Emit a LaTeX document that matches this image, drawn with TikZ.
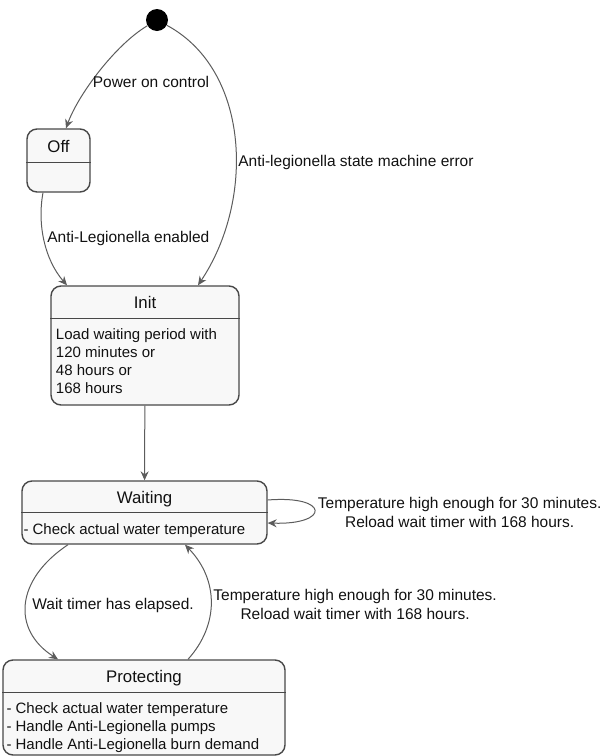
\documentclass[tikz,border=0pt]{standalone}
\usepackage{fontspec}
\setmainfont{Liberation Sans}
\usetikzlibrary{arrows.meta}
\definecolor{boxfill}{HTML}{F8F8F8}
\definecolor{boxline}{HTML}{484848}
\definecolor{edgeline}{HTML}{5C5C5C}
\definecolor{inktext}{HTML}{111111}

\begin{document}
\begin{tikzpicture}[x=1pt,y=-1pt,
    state/.style={draw=boxline,fill=boxfill,line width=1.4pt,rounded corners=10pt,inner sep=0pt},
    title/.style={inner sep=0pt,text=inktext,font=\fontsize{16.8}{20}\selectfont,text height=15pt,text depth=3pt},
    body/.style={inner sep=0pt,align=left,text=inktext,font=\fontsize{15}{18}\selectfont},
    lbl/.style={inner sep=0pt,text=inktext,font=\fontsize{15.5}{19}\selectfont,text height=14.1pt,text depth=3pt},
    lbltwo/.style={inner sep=0pt,align=center,text=inktext,font=\fontsize{15.5}{19}\selectfont},
    sep/.style={draw=boxline,line width=1.4pt},
    trans/.style={draw=edgeline,line width=1pt,-{Stealth[length=9pt,width=8pt,inset=3pt]}}]
      \useasboundingbox (0,0) rectangle (603,756);
      \node[circle,fill=black,minimum size=22pt,inner sep=0pt] (start) at (157,20) {};

      \node[state,minimum width=63pt,minimum height=63pt] (off) at (58.5,160.5) {};
      \node[title] (offname) at ([yshift=-18]off.north) {Off};
      \draw[sep] ([yshift=-34]off.north west) -- ([yshift=-34]off.north east);

      \node[state,minimum width=188pt,minimum height=119pt] (init) at (145,345.5) {};
      \node[title] (initname) at ([yshift=-17.5]init.north) {Init};
      \draw[sep] ([yshift=-33]init.north west) -- ([yshift=-33]init.north east);
      \node[body,anchor=north west] (initbody) at ([xshift=5.5,yshift=-43.5]init.north west) {Load waiting period with\\120 minutes or\\48 hours or\\168 hours};

      \node[state,minimum width=245pt,minimum height=63pt] (wait) at (144.5,512.5) {};
      \node[title] (waitname) at ([yshift=-17.5]wait.north) {Waiting};
      \draw[sep] ([yshift=-32]wait.north west) -- ([yshift=-32]wait.north east);
      \node[body,anchor=north west] (waitbody) at ([xshift=2,yshift=-43.3]wait.north west) {- Check actual water temperature};

      \node[state,minimum width=282pt,minimum height=95pt] (prot) at (144,707.5) {};
      \node[title] (protname) at ([yshift=-17.5]prot.north) {Protecting};
      \draw[sep] ([yshift=-33]prot.north west) -- ([yshift=-33]prot.north east);
      \node[body,anchor=north west] (protbody) at ([xshift=4,yshift=-43.3]prot.north west) {- Check actual water temperature\\- Handle Anti-Legionella pumps\\- Handle Anti-Legionella burn demand};

      \draw[trans] (start) .. controls (115,45) and (78,95) .. ([xshift=7.5]off.north)
        node[lbl,pos=0.59,anchor=west,xshift=1] {Power on control};
      \draw[trans] (start) .. controls (250,70) and (255,200) .. ([xshift=53]init.north)
        node[lbl,pos=0.57,anchor=west,xshift=2] {Anti-legionella state machine error};
      \draw[trans] ([xshift=-15.5]off.south) .. controls (37,225) and (45,260) .. ([xshift=-78]init.north)
        node[lbl,pos=0.45,anchor=west,xshift=3.5] {Anti-Legionella enabled};
      \draw[trans] (init) -- (wait);
      \draw[trans] ([xshift=-76.5]wait.south) .. controls (15,580) and (12,630) .. ([xshift=-86]prot.north)
        node[lbl,pos=0.5,anchor=west,xshift=6] {Wait timer has elapsed.};
      \draw[trans] ([xshift=44]prot.north) .. controls (219,625) and (219,580) .. ([xshift=40.5]wait.south)
        node[lbltwo,pos=0.5,anchor=west,xshift=2,yshift=-1.8] {Temperature high enough for 30 minutes.\\Reload wait timer with 168 hours.};
      \draw[trans] ([yshift=12.5]wait.east) .. controls (330,495) and (330,525) .. ([yshift=-10.5]wait.east)
        node[lbltwo,pos=0.5,anchor=west,xshift=3,yshift=-2.4] {Temperature high enough for 30 minutes.\\Reload wait timer with 168 hours.};
    \end{tikzpicture}
\end{document}
